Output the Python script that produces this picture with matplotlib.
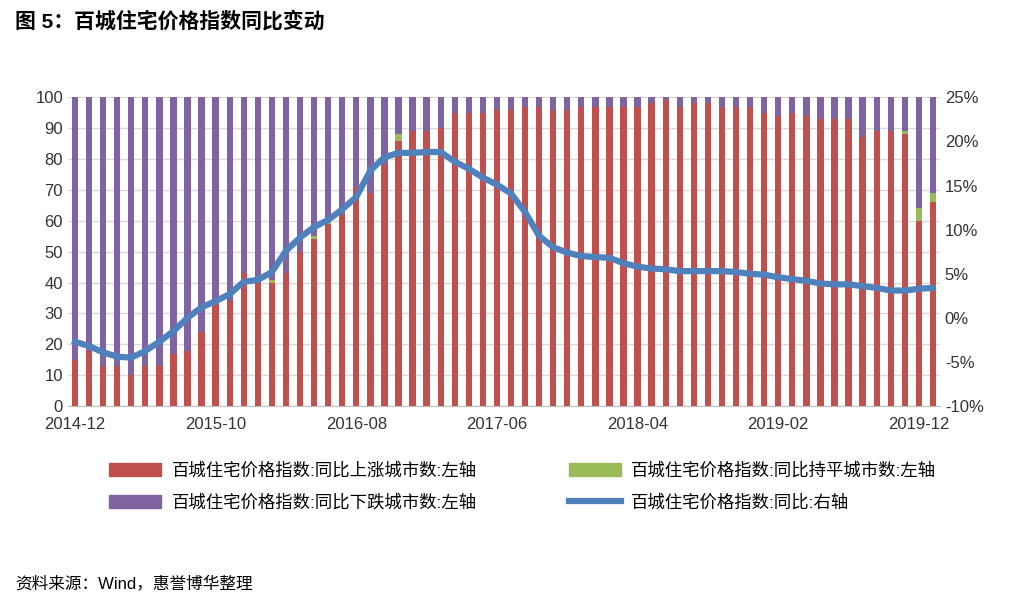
import matplotlib
matplotlib.use("Agg")
import matplotlib.pyplot as plt
import numpy as np
from matplotlib.patches import Patch
from matplotlib.lines import Line2D

plt.rcParams['font.family'] = ['Liberation Sans', 'Noto Sans CJK SC']

months = [f"{y}-{m:02d}" for y in range(2014, 2021) for m in range(1, 13)][11:73]
up = [15,18,13,13,10,13,13,17,18,24,33,34,43,40,40,43,50,54,59,62,71,69,78,86,89,89,90,95,95,95,96,
      96,97,97,96,96,97,97,97,97,97,98,99,97,98,98,97,97,97,95,94,95,94,93,93,93,87,89,89,88,60,66]
flat = [0,0,0,0,0,0,0,0,0,0,0,0,0,0,1,0,0,1,1,0,0,0,0,2,0,0,0,0,0,0,0,
        0,0,0,0,0,0,0,0,0,0,0,0,0,0,0,0,0,0,0,0,0,0,0,0,0,0,0,0,1,4,3]
yoy = [-2.7,-3.2,-3.9,-4.4,-4.5,-3.75,-2.7,-1.5,0.0,1.2,1.9,2.7,4.1,4.3,5.2,7.6,9.1,10.3,11.1,12.3,13.7,
       16.7,18.2,18.7,18.7,18.8,18.8,17.7,16.9,15.9,15.1,14.1,12.0,9.3,8.0,7.4,7.0,6.9,6.8,6.2,5.8,5.6,
       5.5,5.3,5.3,5.3,5.3,5.2,5.0,4.9,4.6,4.4,4.2,3.9,3.8,3.8,3.6,3.4,3.1,3.1,3.3,3.4]
down = [100 - u - f for u, f in zip(up, flat)]

RED, GREEN, PURPLE, BLUE = '#C0504D', '#9BBB59', '#8064A2', '#4F81BD'

fig = plt.figure(figsize=(10.14, 6.08), dpi=100)
ax = fig.add_axes([0.067, 0.332, 0.86, 0.508])
x = np.arange(len(months))
w = 0.45
ax.bar(x, up, w, color=RED, zorder=2)
ax.bar(x, flat, w, bottom=up, color=GREEN, zorder=2)
ax.bar(x, down, w, bottom=np.array(up) + np.array(flat), color=PURPLE, zorder=2)
ax.set_ylim(0, 100)
ax.set_yticks(range(0, 101, 10))
ax.set_xlim(-0.5, len(months) - 0.5)
ax.set_xticks(x[::10])
ax.set_xticklabels(months[::10])
ax.grid(axis='y', color='#D9D9D9', lw=1, zorder=0)
for s in ['top', 'right', 'left']:
    ax.spines[s].set_visible(False)
ax.spines['bottom'].set_color('#BFBFBF')
ax.tick_params(length=0, labelsize=12, colors='#333333')
ax.tick_params(axis='x', pad=8)

ax2 = ax.twinx()
ax2.plot(x, yoy, color=BLUE, lw=4.5, zorder=3)
ax2.set_ylim(-10, 25)
ax2.set_yticks(range(-10, 26, 5))
ax2.set_yticklabels([f"{v}%" for v in range(-10, 26, 5)])
for s in ['top', 'right', 'left', 'bottom']:
    ax2.spines[s].set_visible(False)
ax2.tick_params(length=0, labelsize=12, colors='#333333')

handles = [Patch(color=RED), Patch(color=PURPLE), Patch(color=GREEN), Line2D([], [], color=BLUE, lw=4.5)]
labels = ['百城住宅价格指数:同比上涨城市数:左轴', '百城住宅价格指数:同比下跌城市数:左轴',
          '百城住宅价格指数:同比持平城市数:左轴', '百城住宅价格指数:同比:右轴']
fig.legend(handles, labels, ncol=2, loc='center left', bbox_to_anchor=(0.092, 0.2), frameon=False,
           fontsize=12.5, columnspacing=5.3, handlelength=3.0, handletextpad=0.6,
           handleheight=0.8, labelspacing=0.9)

fig.text(0.015, 0.965, '图 5：百城住宅价格指数同比变动', fontsize=15, fontweight='bold', va='center')
fig.text(0.015, 0.04, '资料来源：Wind，惠誉博华整理', fontsize=12, va='center')
fig.savefig('out.png', dpi=100)
